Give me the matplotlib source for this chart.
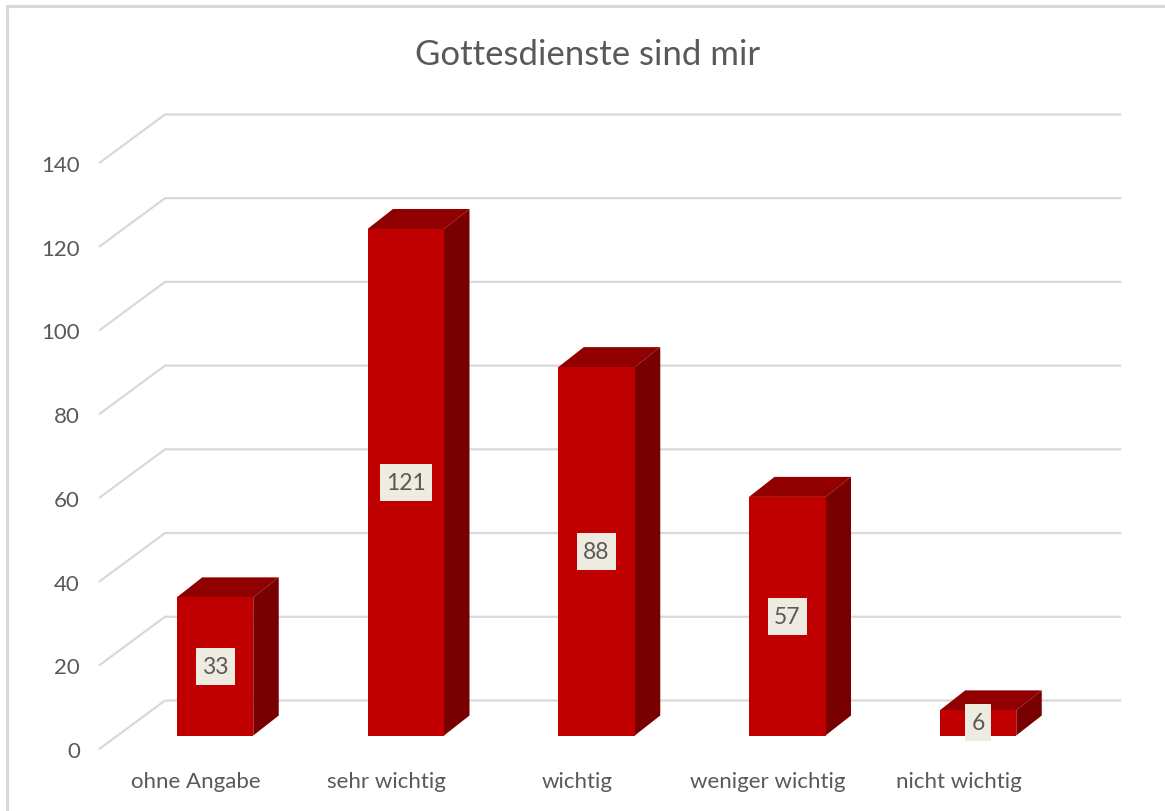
import matplotlib
matplotlib.use('agg')
import matplotlib.pyplot as plt
from matplotlib.patches import Polygon, Rectangle

categories = ["ohne Angabe", "sehr wichtig", "wichtig", "weniger wichtig", "nicht wichtig"]
values = [33, 121, 88, 57, 6]
y_ticks = [0, 20, 40, 60, 80, 100, 120, 140]
title = "Gottesdienste sind mir"

W, H = 1165, 812
FONT = "Lato"
TEXT = "#595959"
GRID = "#d9d9d9"
LABEL_BG = "#eeece1"
FRONT = "#c00000"
TOP = "#900000"
SIDE = "#780000"

# projection of the fake 3D scene, in pixels
PX_PER_UNIT = 4.186
BAR_BASE = 736.5
BAR_W = 76.5
BAR_DX, BAR_DY = 25.5, 20
FIRST_CENTER, STEP = 215, 190.75
WALL_X0, WALL_X1, WALL_X2 = 100, 165, 1120
WALL_BASE, WALL_DY = 749.5, 48
TICK_SHIFT = 2.5


def val_y(v, base=BAR_BASE):
    return base - v * PX_PER_UNIT


fig = plt.figure(figsize=(W / 100, H / 100), dpi=100)
ax = fig.add_axes([0, 0, 1, 1])
ax.set_xlim(0, W)
ax.set_ylim(H, 0)
ax.axis("off")

# chart frame, the right side is cut off in the screenshot
ax.plot([7, 7], [H, 7], color=GRID, lw=2.2, solid_capstyle="projecting")
ax.plot([7, W], [7, 7], color=GRID, lw=2.2, solid_capstyle="butt")

# side wall + back wall gridlines, tick labels
for t in y_ticks:
    y = val_y(t, WALL_BASE)
    ax.plot([WALL_X0, WALL_X1, WALL_X2], [y, y - WALL_DY, y - WALL_DY], color=GRID, lw=1.6,
            solid_joinstyle="miter", zorder=1)
    ax.text(80, y + TICK_SHIFT, str(t), ha="right", va="center", fontsize=16, color=TEXT, family=FONT)

for i, (cat, v) in enumerate(zip(categories, values)):
    cx = FIRST_CENTER + i * STEP
    left, right = cx - BAR_W / 2, cx + BAR_W / 2
    top = val_y(v)
    ax.add_patch(Polygon([(left, top), (left + BAR_DX, top - BAR_DY), (right + BAR_DX, top - BAR_DY), (right, top)],
                         closed=True, fc=TOP, ec="none", zorder=2))
    ax.add_patch(Polygon([(right, top), (right + BAR_DX, top - BAR_DY), (right + BAR_DX, BAR_BASE - BAR_DY), (right, BAR_BASE)],
                         closed=True, fc=SIDE, ec="none", zorder=2))
    ax.add_patch(Rectangle((left, top), BAR_W, BAR_BASE - top, fc=FRONT, ec="none", zorder=3))

    # value label sits at the middle of the bar
    my = (top + BAR_BASE) / 2
    lw = 14 + 12.5 * len(str(v))
    ax.add_patch(Rectangle((cx - lw / 2, my - 18.5), lw, 37, fc=LABEL_BG, ec="none", zorder=4))
    ax.text(cx, my, str(v), ha="center", va="center", fontsize=16.5, color=TEXT, family=FONT, zorder=5)

    ax.text(cx - 19.5, 782, cat, ha="center", va="center", fontsize=16, color=TEXT, family=FONT)

ax.text(588, 55, title, ha="center", va="center", fontsize=25, color=TEXT, family=FONT)

fig.savefig("out.png", dpi=100)
